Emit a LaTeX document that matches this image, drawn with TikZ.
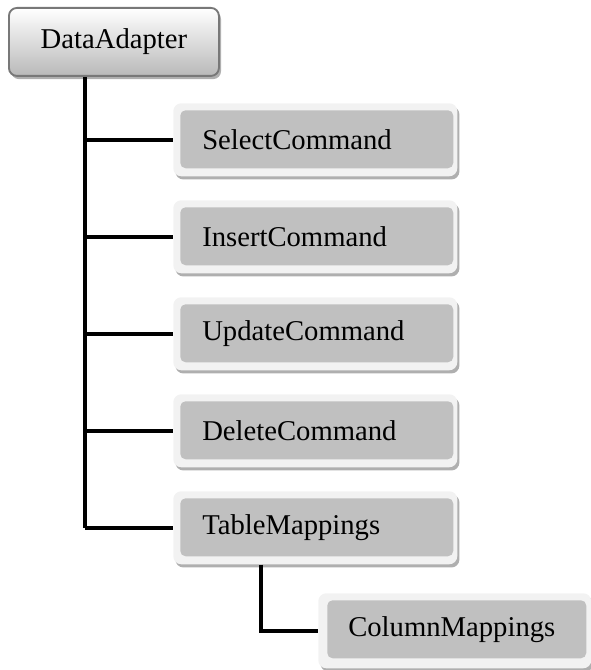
\documentclass[tikz,border=0pt]{standalone}
\usepackage{fontspec}
\setmainfont{Liberation Serif}
\usetikzlibrary{calc}
\definecolor{framec}{RGB}{242,242,242}
\definecolor{innerc}{RGB}{192,192,192}
\definecolor{shadowc}{RGB}{175,175,175}
\definecolor{rootedge}{RGB}{120,120,120}
\definecolor{rootbottom}{RGB}{185,185,185}
\begin{document}
\begin{tikzpicture}[x=0.75pt,y=-0.75pt,
  boxshadow/.style={preaction={fill=shadowc, draw=none,
      transform canvas={shift={(1.6pt,-2.4pt)}}}},
  boxframe/.style={boxshadow, fill=framec, draw=none, rounded corners=6pt,
      inner sep=0pt, minimum width=213pt, minimum height=54.75pt},
  colframe/.style={boxframe, minimum width=204.75pt, minimum height=56.25pt},
  boxinner/.style={fill=innerc, draw=none, rounded corners=4pt,
      inner xsep=16.5pt, inner ysep=0pt, text width=171.75pt,
      minimum height=43.5pt, align=left, font=\fontsize{21.5}{25}\selectfont},
  colinner/.style={boxinner, inner xsep=15.75pt, text width=162.75pt},
  rootbox/.style={boxshadow, draw=rootedge, line width=1.4pt,
      top color=white, bottom color=rootbottom, rounded corners=6pt,
      inner sep=0pt, minimum width=157.5pt, minimum height=51pt,
      font=\fontsize{21.5}{25}\selectfont},
  conn/.style={draw=black, line width=2.8pt}]
\useasboundingbox (0,0) rectangle (590,670);

% root
\node[rootbox, anchor=north west] (root) at (8,7) {DataAdapter};

% command boxes
\foreach \name/\txt/\top in {sel/SelectCommand/103, ins/InsertCommand/200,
    upd/UpdateCommand/297, del/DeleteCommand/394, tab/TableMappings/491} {
  \node[boxframe, anchor=north west] (\name F) at (173,\top) {};
  \node[boxinner, anchor=north west] (\name) at ($(\name F.north west)+(7,7)$) {\txt};
}

% nested box
\node[colframe, anchor=north west] (colF) at (318,593) {};
\node[colinner, anchor=north west] (col) at ($(colF.north west)+(9,7)$) {ColumnMappings};

% trunk and branches
\coordinate (trunk) at ($(root.south west)+(77,0)$);
\draw[conn] (trunk) -- (trunk |- tabF.west);
\foreach \name in {sel,ins,upd,del,tab}
  \draw[conn] (trunk |- \name F.west) -- (\name F.west);

% sub branch
\coordinate (sub) at ($(tabF.south west)+(88,0)$);
\draw[conn] (sub) |- (colF.west);
\end{tikzpicture}
\end{document}
